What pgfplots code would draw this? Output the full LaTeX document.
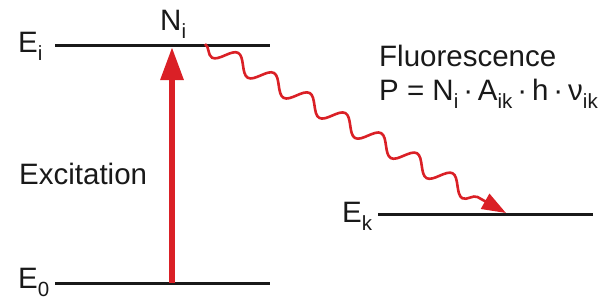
\documentclass[border=0pt]{standalone}
\usepackage{pgfplots}
\pgfplotsset{compat=1.18}
\usepackage{fontspec}
\setmainfont{Liberation Sans}
\usetikzlibrary{arrows.meta,decorations.pathmorphing}
\definecolor{fred}{RGB}{218,32,38}
\newcommand\sub[1]{\raisebox{-8.5bp}{\fontsize{20.5bp}{20.5bp}\selectfont #1}}
\tikzset{lbl/.style={inner sep=0pt,anchor=base west,font=\fontsize{29.5bp}{34bp}\selectfont,text=black!90}}
\begin{document}
\begin{tikzpicture}
\begin{axis}[x=1bp,y=1bp,xmin=0,xmax=603,ymin=0,ymax=300,hide axis,clip=false]
\path (axis cs:0,0) rectangle (axis cs:603,300);
% energy levels
\addplot[black!90,line width=3bp,no markers] coordinates {(55,255) (270,255)};
\addplot[black!90,line width=3bp,no markers] coordinates {(55,17) (270,17)};
\addplot[black!90,line width=3bp,no markers] coordinates {(378,86) (593,86)};
% excitation arrow
\addplot[fred,line width=6bp,no markers,-{Triangle[length=33bp,width=22bp]}] coordinates {(172,17) (172,253)};
% fluorescence wave
\addplot[draw=fred,no markers,
  postaction={draw=fred,line width=2.6bp,decorate,
  decoration={snake,amplitude=8.5bp,segment length=41bp,post length=26bp,mirror},
  -{Triangle[length=24bp,width=17bp]}},draw=none] coordinates {(205,256) (506,87)};
% labels
\node[lbl] at (axis cs:18,248) {E\sub{i}};
\node[lbl] at (axis cs:160,270) {N\sub{i}};
\node[lbl] at (axis cs:18,12) {E\sub{0}};
\node[lbl] at (axis cs:342,78) {E\sub{k}};
\node[lbl] at (axis cs:19,116) {Excitation};
\node[lbl] at (axis cs:379,234) {Fluorescence};
\node[lbl] at (axis cs:379,200) {P = N\sub{i}\,·\,A\sub{ik}\,·\,h\,·\,ν\sub{ik}};
\end{axis}
\end{tikzpicture}
\end{document}
